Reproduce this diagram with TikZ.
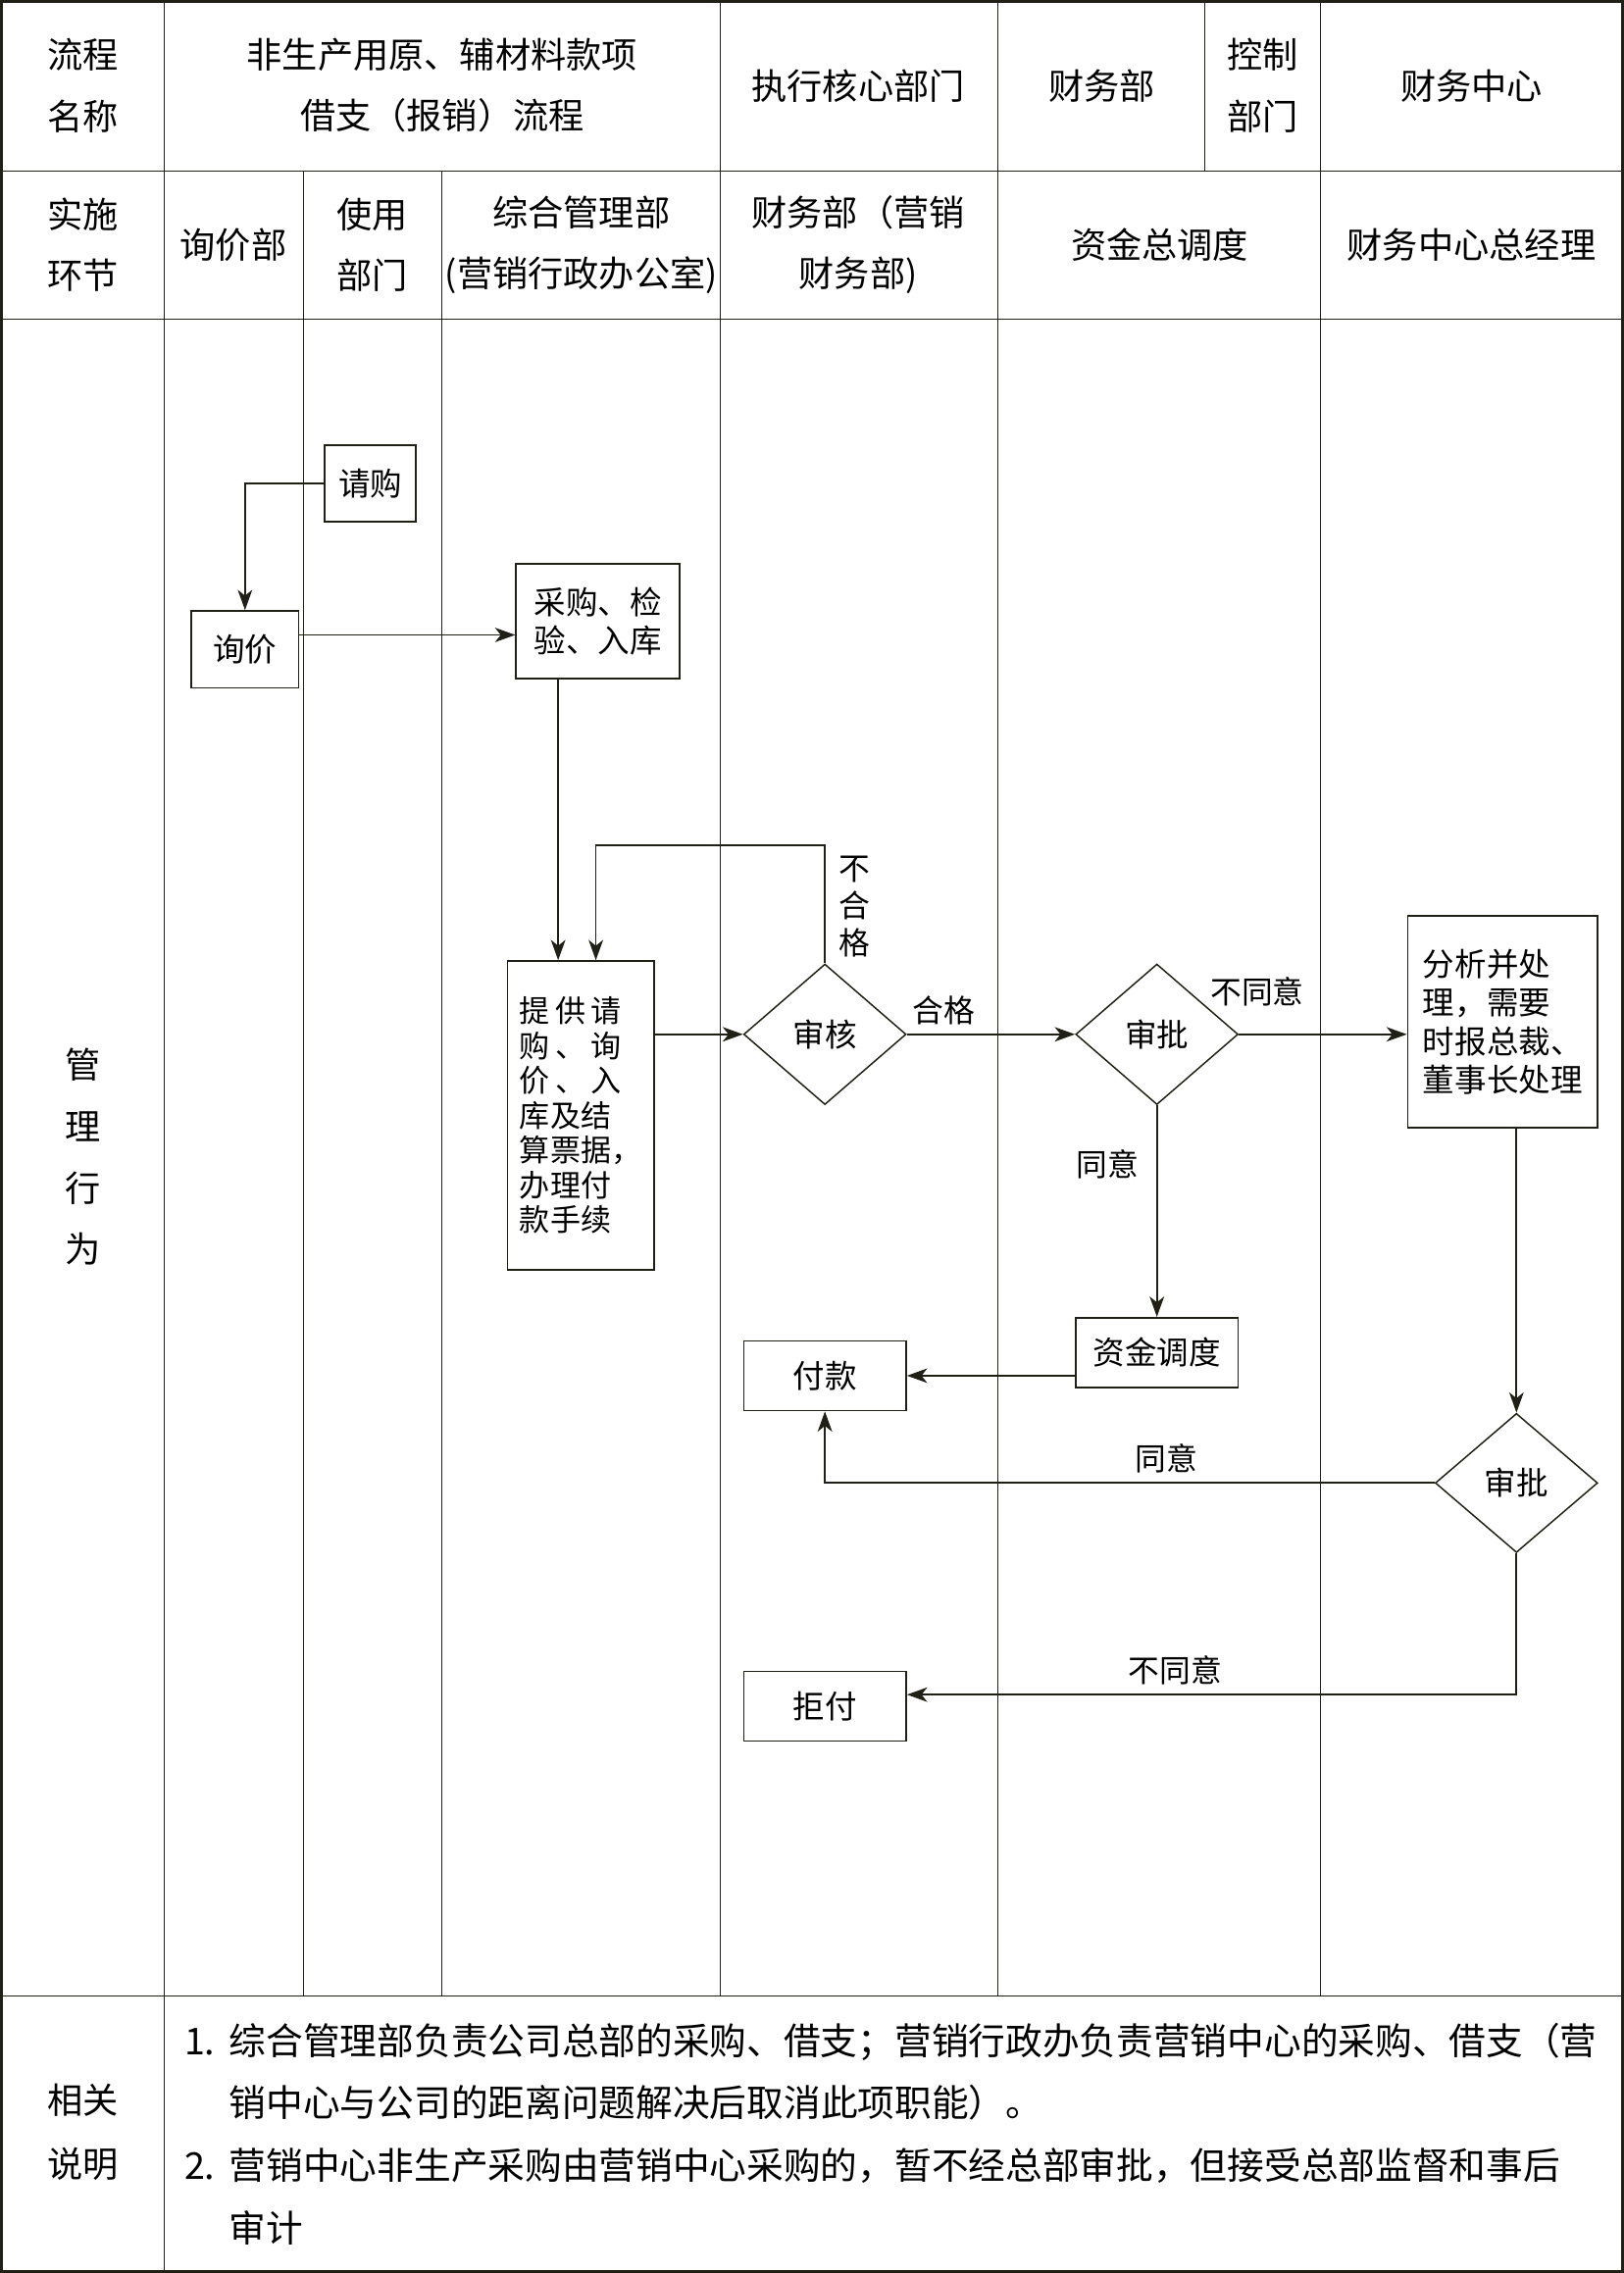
\documentclass[tikz,border=0pt]{standalone}
\usepackage{fontspec}
\setmainfont{Noto Sans CJK SC}
\usetikzlibrary{arrows.meta,shapes.geometric}
\definecolor{ink}{RGB}{32,32,22}
\begin{document}
\begin{tikzpicture}[x=1pt, y=-1pt,
        grid/.style={draw=ink, line width=0.6pt},
        hd/.style={align=center, font=\fontsize{24.5}{42}\selectfont},
        box/.style={rectangle, draw=ink, line width=1.2pt, inner sep=0pt, font=\fontsize{22}{26.5}\selectfont},
        dec/.style={diamond, draw=ink, line width=1pt, inner sep=0pt, minimum width=112pt, minimum height=97pt, font=\fontsize{22}{26.5}\selectfont},
        arrow/.style={-{Stealth[length=14pt, width=10pt, inset=4pt]}, draw=ink, line width=1.2pt},
        lab/.style={inner sep=0pt, font=\fontsize{21.5}{25.5}\selectfont}
    ]
    \useasboundingbox (0,0) rectangle (1120,1568);

    % table
    \draw[grid] (113,0) -- (113,1566);
    \foreach \x in {497,688,911} \draw[grid] (\x,0) -- (\x,1377);
    \foreach \x in {209,305} \draw[grid] (\x,118) -- (\x,1377);
    \draw[grid] (831,0) -- (831,118);
    \foreach \y in {118,220,1377} \draw[grid] (0,\y) -- (1120,\y);
    \draw[draw=ink, line width=2pt] (1,1) rectangle (1119,1567);

    % header
    \node[hd] (lcmc) at (57,59) {流程\\名称};
    \node[hd] (title) at (305,59) {非生产用原、辅材料款项\\借支（报销）流程};
    \node[hd] (zxbm) at (592,59) {执行核心部门};
    \node[hd] (cwb) at (760,59) {财务部};
    \node[hd] (kzbm) at (871,59) {控制\\部门};
    \node[hd] (cwzx) at (1015,59) {财务中心};
    \node[hd] (sshj) at (57,169) {实施\\环节};
    \node[hd] (xjb) at (161,169) {询价部};
    \node[hd] (sybm) at (257,169) {使用\\部门};
    \node[hd] (zhglb) at (401,169) {综合管理部\\(营销行政办公室)};
    \node[hd] (yxcwb) at (592,169) {财务部（营销\\财务部)};
    \node[hd] (zjzdd) at (800,169) {资金总调度};
    \node[hd] (zjl) at (1015,169) {财务中心总经理};
    \node[hd, font=\fontsize{24.5}{42.5}\selectfont] (glxw) at (57,798) {管\\理\\行\\为};
    \node[hd, font=\fontsize{24.5}{44}\selectfont] (xgsm) at (57,1471) {相关\\说明};

    % flow
    \node[box, minimum width=63pt, minimum height=53pt] (qg) at (255.5,333.5) {请购};
    \node[box, minimum width=74pt, minimum height=53pt] (xj) at (169,448) {询价};
    \node[box, minimum width=113pt, minimum height=79pt, align=left] (cg) at (412.5,428.5) {采购、检\\验、入库};
    \node[box, minimum width=101pt, minimum height=213pt, align=left, font=\fontsize{21}{24}\selectfont] (tg) at (400.5,769.5)
        {\makebox[70pt][s]{提\hfill 供\hfill 请}\\\makebox[70pt][s]{购\hfill 、\hfill 询}\\\makebox[70pt][s]{价\hfill 、\hfill 入}\\库及结\\算票据，\\办理付\\款手续};
    \node[dec] (sh) at (569,713.5) {审核};
    \node[dec] (sp) at (798,713.5) {审批};
    \node[box, minimum width=131pt, minimum height=146pt, align=left] (fx) at (1036.5,705) {分析并处\\理，需要\\时报总裁、\\董事长处理};
    \node[box, minimum width=112pt, minimum height=48pt] (zjdd) at (798,933) {资金调度};
    \node[box, minimum width=112pt, minimum height=48pt] (fk) at (569,949) {付款};
    \node[dec, minimum height=96pt] (zsp) at (1046,1023) {审批};
    \node[box, minimum width=112pt, minimum height=48pt] (jf) at (569,1177) {拒付};
    \coordinate (back) at (411,583);

    \draw[arrow] (qg.west) -| (xj.north);
    \draw[arrow] ([yshift=10pt]xj.east) -- ([yshift=10pt]xj.east -| cg.west);
    \draw[arrow] ([xshift=-27.5pt]cg.south) -- ([xshift=-27.5pt]cg.south |- tg.north);
    \draw[arrow] (sh.north) |- node[lab, pos=0.24, right=9pt, align=center, font=\fontsize{21.5}{25.5}\selectfont] {不\\合\\格} (back) -- (back |- tg.north);
    \draw[arrow] (tg.east |- sh.west) -- (sh.west);
    \draw[arrow] (sh.east) -- node[lab, pos=0.22, above=6pt] {合格} (sp.west);
    \draw[arrow] (sp.east) -- node[lab, pos=0.11, above=19pt] {不同意} (sp.east -| fx.west);
    \draw[arrow] (sp.south) -- node[lab, pos=0.28, left=12pt] {同意} (zjdd.north);
    \draw[arrow] (zjdd.west |- fk.east) -- (fk.east);
    \draw[arrow] (zsp.north |- fx.south) -- (zsp.north);
    \draw[arrow] (zsp.west) -| node[lab, pos=0.22, above=6pt] {同意} (fk.south);
    \draw[arrow] (zsp.south) |- node[lab, pos=0.78, above=6pt] {不同意} ([yshift=8pt]jf.east);

    % notes
    \node[anchor=west, align=left, inner sep=0pt, font=\fontsize{25.5}{43}\selectfont] (sm) at (127,1472)
        {\makebox[31pt][l]{1.}综合管理部负责公司总部的采购、借支；营销行政办负责营销中心的采购、借支（营\\
         \hspace*{31pt}销中心与公司的距离问题解决后取消此项职能）。\\
         \makebox[31pt][l]{2.}营销中心非生产采购由营销中心采购的，暂不经总部审批，但接受总部监督和事后\\
         \hspace*{31pt}审计};
\end{tikzpicture}
\end{document}
